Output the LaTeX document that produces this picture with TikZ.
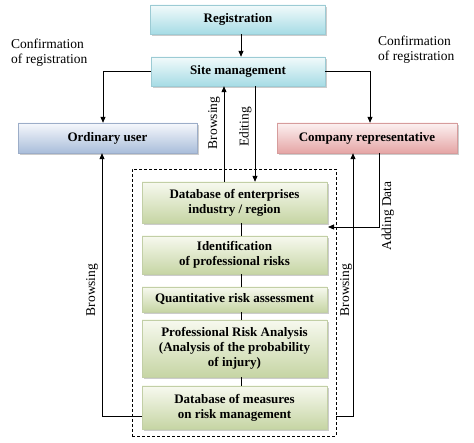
\documentclass[tikz,border=0pt]{standalone}
\usepackage{fontspec}
\setmainfont{Liberation Serif}
\usetikzlibrary{arrows.meta,shadows,calc}
\begin{document}
\begin{tikzpicture}[x=1pt,y=-1pt,
  box/.style={draw=#1, line width=0.4pt, shading=axis, shading angle=0,
    font=\fontsize{13}{15}\selectfont\bfseries, align=center, inner sep=2pt,
    drop shadow={shadow xshift=1.8pt, shadow yshift=-1.8pt, fill=gray, opacity=0.4}},
  cyanbox/.style={box=cyanbrd, top color=cyantop, bottom color=cyanbot},
  bluebox/.style={box=bluebrd, top color=bluetop, bottom color=bluebot},
  redbox/.style={box=redbrd, top color=redtop, bottom color=redbot},
  greenbox/.style={box=greenbrd, top color=greentop, bottom color=greenbot, minimum width=185pt},
  lbl/.style={font=\fontsize{13.5}{15}\selectfont, align=left, inner sep=0pt},
  rlbl/.style={font=\fontsize{13.5}{14}\selectfont, rotate=90, inner sep=0pt},
  conn/.style={line width=0.8pt},
  arr/.style={conn, -{Triangle[length=6pt,width=5pt]}}
]
\definecolor{cyantop}{HTML}{F2FAFB}
\definecolor{cyanbot}{HTML}{A6DCE5}
\definecolor{cyanbrd}{HTML}{9CCBD4}
\definecolor{bluetop}{HTML}{F6F8FC}
\definecolor{bluebot}{HTML}{A9BDDA}
\definecolor{bluebrd}{HTML}{9CADC8}
\definecolor{redtop}{HTML}{FCF1F1}
\definecolor{redbot}{HTML}{E5A5A5}
\definecolor{redbrd}{HTML}{D69C9C}
\definecolor{greentop}{HTML}{F7F9EF}
\definecolor{greenbot}{HTML}{C6D5A4}
\definecolor{greenbrd}{HTML}{C2CFA6}
\useasboundingbox (0,0) rectangle (474,443);

% dashed frame
\node[draw, dashed, dash pattern=on 3pt off 2pt, line width=0.6pt, minimum width=204pt, minimum height=267pt, inner sep=0pt] (frame) at (234,302.5) {};

\node[cyanbox, minimum width=175pt, minimum height=29pt] (reg) at (238,19.5) {Registration};
\node[cyanbox, minimum width=174pt, minimum height=29pt] (site) at (238,71.5) {Site management};
\node[bluebox, minimum width=179pt, minimum height=30pt] (ord) at (107.5,138) {Ordinary user};
\node[redbox, minimum width=180pt, minimum height=30pt] (comp) at (367,138) {Company representative};

\node[greenbox, minimum height=41pt] (db1) at (234.5,202.5) {Database of enterprises\\industry / region};
\node[greenbox, minimum height=38pt] (ident) at (234.5,255) {Identification\\of professional risks};
\node[greenbox, minimum height=25pt] (quant) at (234.5,299.5) {Quantitative risk assessment};
\node[greenbox, minimum height=57pt] (pra) at (234.5,348.5) {Professional Risk Analysis\\(Analysis of the probability\\of injury)};
\node[greenbox, minimum height=43pt] (db2) at (234.5,407.5) {Database of measures\\on risk management};

% helper coordinates
\coordinate (cx) at (241,0);
\coordinate (ordx) at (103,0);
\coordinate (compx) at (370,0);
\coordinate (brx) at (224,0);
\coordinate (edx) at (255,0);
\coordinate (adx) at (379,0);
\coordinate (adtip) at (328,227);
\coordinate (rbx) at (353,0);
\coordinate (boty) at (0,416);
\coordinate (lbx) at (102,416);
\coordinate (rbc) at (353,416);

\draw[arr] (reg.south -| cx) -- (site.north -| cx);
\draw[arr] (site.west) -| (ord.north -| ordx);
\draw[arr] (site.east) -| (comp.north -| compx);
\draw[arr] (db1.north -| brx) -- (site.south -| brx);
\draw[arr] (site.south -| edx) -- (db1.north -| edx);
\draw[conn] (db1.south -| cx) -- (ident.north -| cx);
\draw[conn] (ident.south -| cx) -- (quant.north -| cx);
\draw[conn] (quant.south -| cx) -- (pra.north -| cx);
\draw[conn] (pra.south -| cx) -- (db2.north -| cx);
\draw[arr] (comp.south -| adx) |- (adtip);
\draw[arr] (frame.east |- boty) -- (rbc) -- (comp.south -| rbx);
\draw[arr] (db2.west |- boty) -- (lbx) -- (ord.south -| lbx);

% labels
\node[rlbl] (lb1) at (214,123) {Browsing};
\node[rlbl] (le) at (245.5,127) {Editing};
\node[rlbl] (lb2) at (92,290) {Browsing};
\node[rlbl] (lb3) at (346,290) {Browsing};
\node[rlbl] (lad) at (388,216) {Adding Data};
\node[lbl, anchor=north west] (cl) at (11,39) {Confirmation\\of registration};
\node[lbl, anchor=north west] (cr) at (378,36) {Confirmation\\of registration};
\end{tikzpicture}
\end{document}
